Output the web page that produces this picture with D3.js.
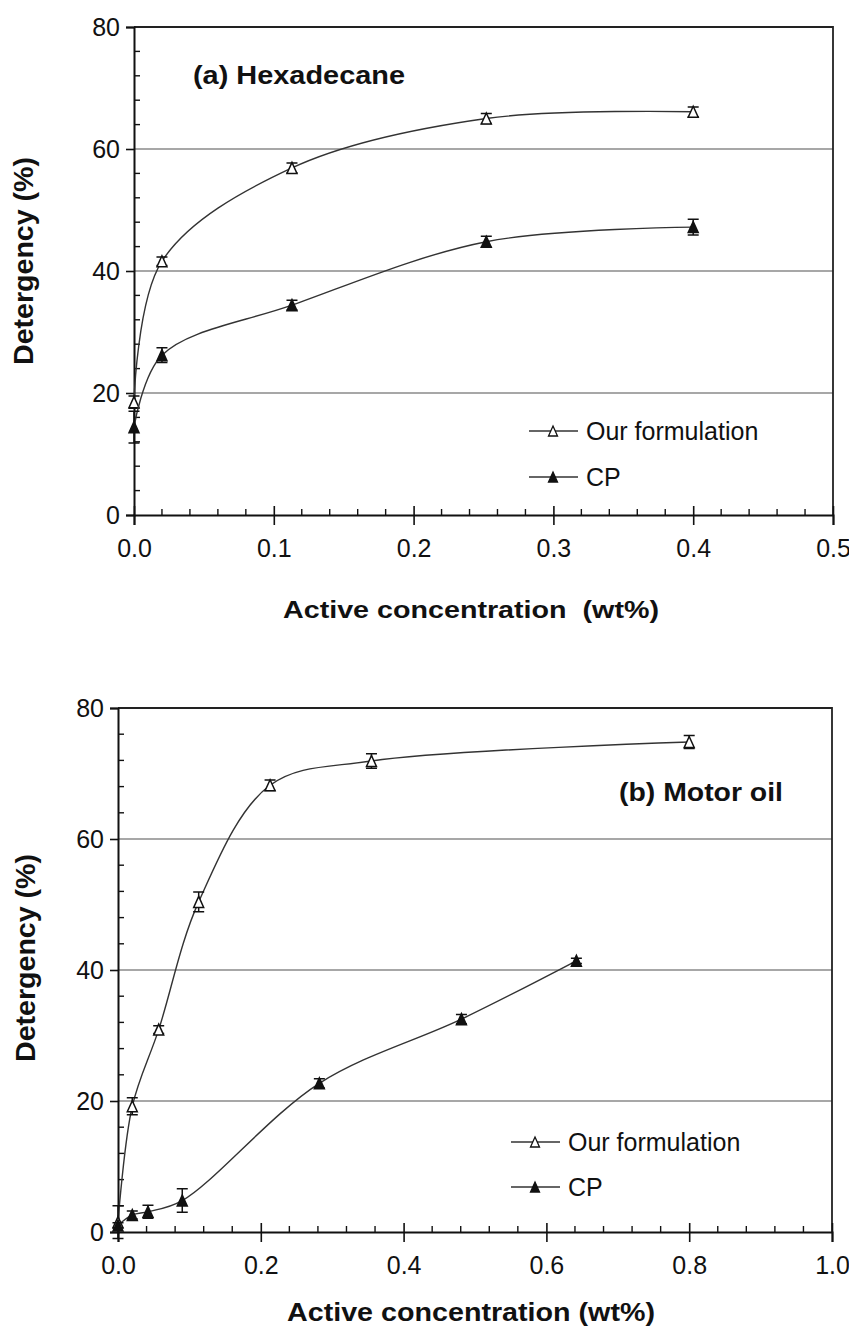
<!DOCTYPE html>
<html>
<head>
<meta charset="utf-8">
<script src="https://cdn.jsdelivr.net/npm/d3@7"></script>
<style>
  body { margin: 0; background: #fff; }
  svg { display: block; }
  .tick-label { font-family: "Liberation Sans", Arial, sans-serif; }
</style>
</head>
<body>
<svg id="chart" width="849" height="1330"></svg>
<script>
// (a) Hexadecane
const hexConc = [0, 0.02, 0.113, 0.252, 0.4];
const hexOurs = [18.5, 41.6, 56.9, 65.0, 66.1];
const hexOursErr = [1.0, 0.7, 0.8, 0.8, 0.8];
const hexCP = [14.4, 26.2, 34.4, 44.8, 47.2];
const hexCPErr = [2.6, 1.2, 0.8, 0.9, 1.3];

// (b) Motor oil
const oilConcOurs = [0, 0.02, 0.057, 0.113, 0.213, 0.355, 0.8];
const oilOurs = [1.5, 19.2, 30.9, 50.4, 68.2, 71.9, 74.8];
const oilOursErr = [2.5, 1.3, 0.6, 1.5, 0.8, 1.1, 1.0];
const oilConcCP = [0, 0.02, 0.042, 0.09, 0.282, 0.481, 0.642];
const oilCP = [1.0, 2.6, 3.1, 4.8, 22.7, 32.5, 41.4];
const oilCPErr = [0.4, 0.6, 1.0, 1.8, 0.7, 0.7, 0.4];

const yTicks = [0, 20, 40, 60, 80];
const hexXTicks = [0, 0.1, 0.2, 0.3, 0.4, 0.5];
const oilXTicks = [0, 0.2, 0.4, 0.6, 0.8, 1.0];
const legendNames = ['Our formulation', 'CP'];

const svg = d3.select('#chart');
svg.append('rect').attr('width', 849).attr('height', 1330).attr('fill', '#fff');

const zip = (xs, ys, es) => xs.map((x, i) => ({ x, y: ys[i], e: es[i] }));

// triangle marker, centred on the point
const tri = (w, h) => `M0,${-h / 2}L${w / 2},${h / 2}L${-w / 2},${h / 2}Z`;
const boldFont = '"Liberation Sans", Arial, sans-serif';

function drawPanel(cfg) {
  const { xr, yr, xMax, xTicks, xMinor, series, title, legend } = cfg;
  const x = d3.scaleLinear([0, xMax], xr);
  const y = d3.scaleLinear([0, 80], yr);
  const g = svg.append('g');

  // gridlines at 20/40/60
  g.append('g').selectAll('line')
    .data([20, 40, 60])
    .join('line')
      .attr('x1', xr[0]).attr('x2', xr[1])
      .attr('y1', d => y(d)).attr('y2', d => y(d))
      .attr('stroke', '#8a8a8a').attr('stroke-width', 1.6);

  // frame top + right
  g.append('path')
    .attr('d', `M${xr[0]},${yr[1]}H${xr[1]}V${yr[0]}`)
    .attr('fill', 'none').attr('stroke', '#222').attr('stroke-width', 1.8);

  // y axis: major ticks outside, minor inside
  g.append('g')
    .attr('transform', `translate(${xr[0]},0)`)
    .call(d3.axisLeft(y).tickValues(yTicks).tickSize(8).tickPadding(6).tickFormat(d3.format('d')))
    .call(a => a.select('.domain').attr('stroke', '#111').attr('stroke-width', 2))
    .call(a => a.selectAll('.tick line').attr('stroke', '#111').attr('stroke-width', 1.6))
    .call(a => a.selectAll('.tick text').attr('class', 'tick-label')
      .attr('font-size', 25).attr('fill', '#111'));
  g.append('g').selectAll('line')
    .data(d3.range(4, 80, 4).filter(v => v % 20 !== 0))
    .join('line')
      .attr('x1', xr[0]).attr('x2', xr[0] + 6)
      .attr('y1', d => y(d)).attr('y2', d => y(d))
      .attr('stroke', '#111').attr('stroke-width', 1.4);

  // x axis: major ticks crossing, minor upward
  g.append('g')
    .attr('transform', `translate(0,${yr[0]})`)
    .call(d3.axisBottom(x).tickValues(xTicks).tickSize(10).tickPadding(14).tickFormat(d3.format('.1f')))
    .call(a => a.select('.domain').attr('stroke', '#111').attr('stroke-width', 2))
    .call(a => a.selectAll('.tick line').attr('y1', -9).attr('stroke', '#111').attr('stroke-width', 1.6))
    .call(a => a.selectAll('.tick text').attr('class', 'tick-label')
      .attr('font-size', 25).attr('fill', '#111'));
  g.append('g').selectAll('line')
    .data(d3.range(xMinor, xMax, xMinor).filter(v => Math.abs(v / xTicks[1] - Math.round(v / xTicks[1])) > 1e-6))
    .join('line')
      .attr('x1', d => x(d)).attr('x2', d => x(d))
      .attr('y1', yr[0]).attr('y2', yr[0] - 6)
      .attr('stroke', '#111').attr('stroke-width', 1.4);

  // series
  const line = d3.line().x(d => x(d.x)).y(d => y(d.y)).curve(d3.curveCatmullRom.alpha(0.5));
  series.forEach(s => {
    g.append('path')
      .datum(s.data)
      .attr('d', line)
      .attr('fill', 'none').attr('stroke', '#333').attr('stroke-width', 1.4);

    g.append('g').selectAll('path')
      .data(s.data)
      .join('path')
        .attr('d', d => `M${x(d.x)},${y(d.y + d.e)}V${y(d.y - d.e)}` +
          `M${x(d.x) - 5.5},${y(d.y + d.e)}h11M${x(d.x) - 5.5},${y(d.y - d.e)}h11`)
        .attr('stroke', '#111').attr('stroke-width', 1.5).attr('fill', 'none');

    g.append('g').selectAll('path')
      .data(s.data)
      .join('path')
        .attr('transform', d => `translate(${x(d.x)},${y(d.y)})`)
        .attr('d', tri(10, 11))
        .attr('fill', s.filled ? '#111' : '#fff')
        .attr('stroke', '#111').attr('stroke-width', 1.5);
  });

  // panel title (scan is a bit stretched sideways, so fit the width)
  g.append('text')
    .attr('x', title.x).attr('y', title.y)
    .attr('font-family', boldFont)
    .attr('font-weight', 'bold').attr('font-size', 25).attr('fill', '#111')
    .attr('textLength', title.len).attr('lengthAdjust', 'spacingAndGlyphs')
    .text(title.text);

  // legend
  legendNames.forEach((name, i) => {
    const ly = legend.y + i * legend.dy;
    const lg = g.append('g');
    lg.append('line')
      .attr('x1', legend.x).attr('x2', legend.x + 49)
      .attr('y1', ly).attr('y2', ly)
      .attr('stroke', '#333').attr('stroke-width', 1.4);
    lg.append('path')
      .attr('transform', `translate(${legend.x + 24},${ly})`)
      .attr('d', tri(9, 10))
      .attr('fill', i === 1 ? '#111' : '#fff')
      .attr('stroke', '#111').attr('stroke-width', 1.3);
    lg.append('text')
      .attr('class', 'tick-label')
      .attr('x', legend.x + 57).attr('y', ly)
      .attr('dy', '0.35em')
      .attr('font-size', 25).attr('fill', '#111')
      .text(name);
  });

  // axis titles
  g.append('text')
    .attr('x', cfg.xTitle.x).attr('y', cfg.xTitle.y)
    .attr('text-anchor', 'middle')
    .attr('font-family', boldFont)
    .attr('font-weight', 'bold').attr('font-size', cfg.xTitle.size).attr('fill', '#111')
    .attr('xml:space', 'preserve')
    .attr('textLength', cfg.xTitle.len).attr('lengthAdjust', 'spacingAndGlyphs')
    .text(cfg.xTitle.text);
  g.append('text')
    .attr('transform', `translate(${cfg.yTitle.x},${cfg.yTitle.y}) rotate(-90)`)
    .attr('text-anchor', 'middle')
    .attr('font-family', boldFont)
    .attr('font-weight', 'bold').attr('font-size', 27).attr('fill', '#111')
    .attr('textLength', 208).attr('lengthAdjust', 'spacingAndGlyphs')
    .text('Detergency (%)');
}

drawPanel({
  xr: [134, 833], yr: [515, 27], xMax: 0.5,
  xTicks: hexXTicks, xMinor: 0.02,
  series: [
    { data: zip(hexConc, hexOurs, hexOursErr), filled: false },
    { data: zip(hexConc, hexCP, hexCPErr), filled: true }
  ],
  title: { text: '(a) Hexadecane', x: 193, y: 84, len: 212 },
  legend: { x: 529, y: 431, dy: 46 },
  xTitle: { text: 'Active concentration  (wt%)', x: 471, y: 618, size: 24, len: 376 },
  yTitle: { x: 33, y: 261 }
});

drawPanel({
  xr: [118, 832], yr: [1232, 708], xMax: 1.0,
  xTicks: oilXTicks, xMinor: 0.04,
  series: [
    { data: zip(oilConcOurs, oilOurs, oilOursErr), filled: false },
    { data: zip(oilConcCP, oilCP, oilCPErr), filled: true }
  ],
  title: { text: '(b) Motor oil', x: 619, y: 801, len: 164 },
  legend: { x: 511, y: 1142, dy: 45 },
  xTitle: { text: 'Active concentration (wt%)', x: 471, y: 1321, size: 25, len: 368 },
  yTitle: { x: 35, y: 958 }
});
</script>
</body>
</html>
